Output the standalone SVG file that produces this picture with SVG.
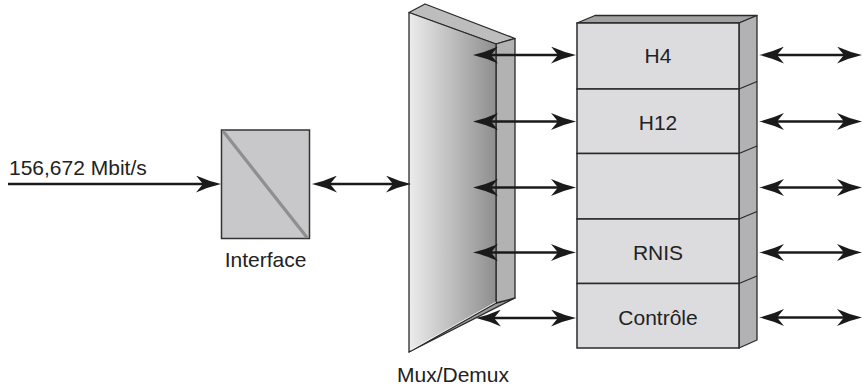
<svg xmlns="http://www.w3.org/2000/svg" width="863" height="386" viewBox="0 0 863 386">
<style>
text{font-family:"Liberation Sans",Arial,sans-serif;font-size:21px;fill:#222}
.edge{stroke:#1a1a1a;stroke-width:2.5;fill:none}
.ol{stroke:#2a2a2a;stroke-width:1.3;stroke-linejoin:round}
.row{fill:#dcdcde;stroke:#2a2a2a;stroke-width:1.5}
</style>
<defs>
<marker id="ah" viewBox="0 0 25 17" refX="15" refY="8.5" markerWidth="25" markerHeight="17" markerUnits="userSpaceOnUse" orient="auto-start-reverse">
<path d="M25,8.5 Q12,5.5 0,0 L7,8.5 L0,17 Q12,11.5 25,8.5 Z" fill="#1a1a1a"/>
</marker>
<linearGradient id="mg" x1="0" y1="0" x2="1" y2="0">
<stop offset="0" stop-color="#ececec"/>
<stop offset="1" stop-color="#8e8e8e"/>
</linearGradient>
</defs>

<g id="input-label"><text x="9" y="175">156,672 Mbit/s</text></g>

<g id="interface">
<rect x="221.5" y="130" width="88" height="108.5" fill="#c8c8ca" stroke="#333" stroke-width="1.5"/>
<line x1="223" y1="131" x2="307" y2="237.5" stroke="#8f8f8f" stroke-width="3.2"/>
<text x="265.5" y="267" text-anchor="middle">Interface</text>
</g>

<g id="mux">
<polygon class="ol" points="409,352 496,303 515,298" fill="#9a9a9a"/>
<polygon class="ol" points="409,12.5 425,4 515,38.5 496,44" fill="#bdbdbd"/>
<polygon class="ol" points="496,44 515,38.5 515,298 496,303" fill="#b2b2b2"/>
<polygon class="ol" points="409,12.5 496,44 496,303 409,352" fill="url(#mg)"/>
<line x1="411" y1="350" x2="496" y2="302" stroke="#fff" stroke-width="0.8"/>
<text x="453" y="382" text-anchor="middle">Mux/Demux</text>
</g>

<g id="stack">
<polygon class="ol" points="577,23 595,15.5 757,15.5 739,23" fill="#a2a2a2"/>
<polygon class="ol" points="739,23 757,15.5 757,340 739,348" fill="#b2b2b4"/>
<g stroke="#2a2a2a" stroke-width="1.3">
<line x1="739" y1="89" x2="757" y2="81.5"/>
<line x1="739" y1="153.5" x2="757" y2="146"/>
<line x1="739" y1="219" x2="757" y2="211.5"/>
<line x1="739" y1="283.5" x2="757" y2="276"/>
</g>
</g>
<g id="row-h4"><rect class="row" x="577" y="23" width="162" height="66"/><text x="658" y="62.5" text-anchor="middle">H4</text></g>
<g id="row-h12"><rect class="row" x="577" y="89" width="162" height="64.5"/><text x="658" y="129.5" text-anchor="middle">H12</text></g>
<g id="row-empty"><rect class="row" x="577" y="153.5" width="162" height="65.5"/></g>
<g id="row-rnis"><rect class="row" x="577" y="219" width="162" height="64.5"/><text x="658" y="260" text-anchor="middle">RNIS</text></g>
<g id="row-controle"><rect class="row" x="577" y="283.5" width="162" height="64.5"/><text x="658" y="325" text-anchor="middle">Contrôle</text></g>

<g id="connectors">
<line class="edge" x1="8" y1="184" x2="211" y2="184" marker-end="url(#ah)"/>
<line class="edge" x1="322" y1="184" x2="401" y2="184" marker-start="url(#ah)" marker-end="url(#ah)"/>
<line class="edge" x1="483" y1="55" x2="566" y2="55" marker-start="url(#ah)" marker-end="url(#ah)"/>
<line class="edge" x1="483" y1="121.5" x2="566" y2="121.5" marker-start="url(#ah)" marker-end="url(#ah)"/>
<line class="edge" x1="483" y1="187.5" x2="566" y2="187.5" marker-start="url(#ah)" marker-end="url(#ah)"/>
<line class="edge" x1="483" y1="252.5" x2="566" y2="252.5" marker-start="url(#ah)" marker-end="url(#ah)"/>
<line class="edge" x1="486" y1="318" x2="566" y2="318" marker-start="url(#ah)" marker-end="url(#ah)"/>
<line class="edge" x1="769" y1="55" x2="852" y2="55" marker-start="url(#ah)" marker-end="url(#ah)"/>
<line class="edge" x1="769" y1="121.5" x2="852" y2="121.5" marker-start="url(#ah)" marker-end="url(#ah)"/>
<line class="edge" x1="769" y1="187.5" x2="852" y2="187.5" marker-start="url(#ah)" marker-end="url(#ah)"/>
<line class="edge" x1="769" y1="252.5" x2="852" y2="252.5" marker-start="url(#ah)" marker-end="url(#ah)"/>
<line class="edge" x1="769" y1="317.5" x2="852" y2="317.5" marker-start="url(#ah)" marker-end="url(#ah)"/>
</g>
</svg>
